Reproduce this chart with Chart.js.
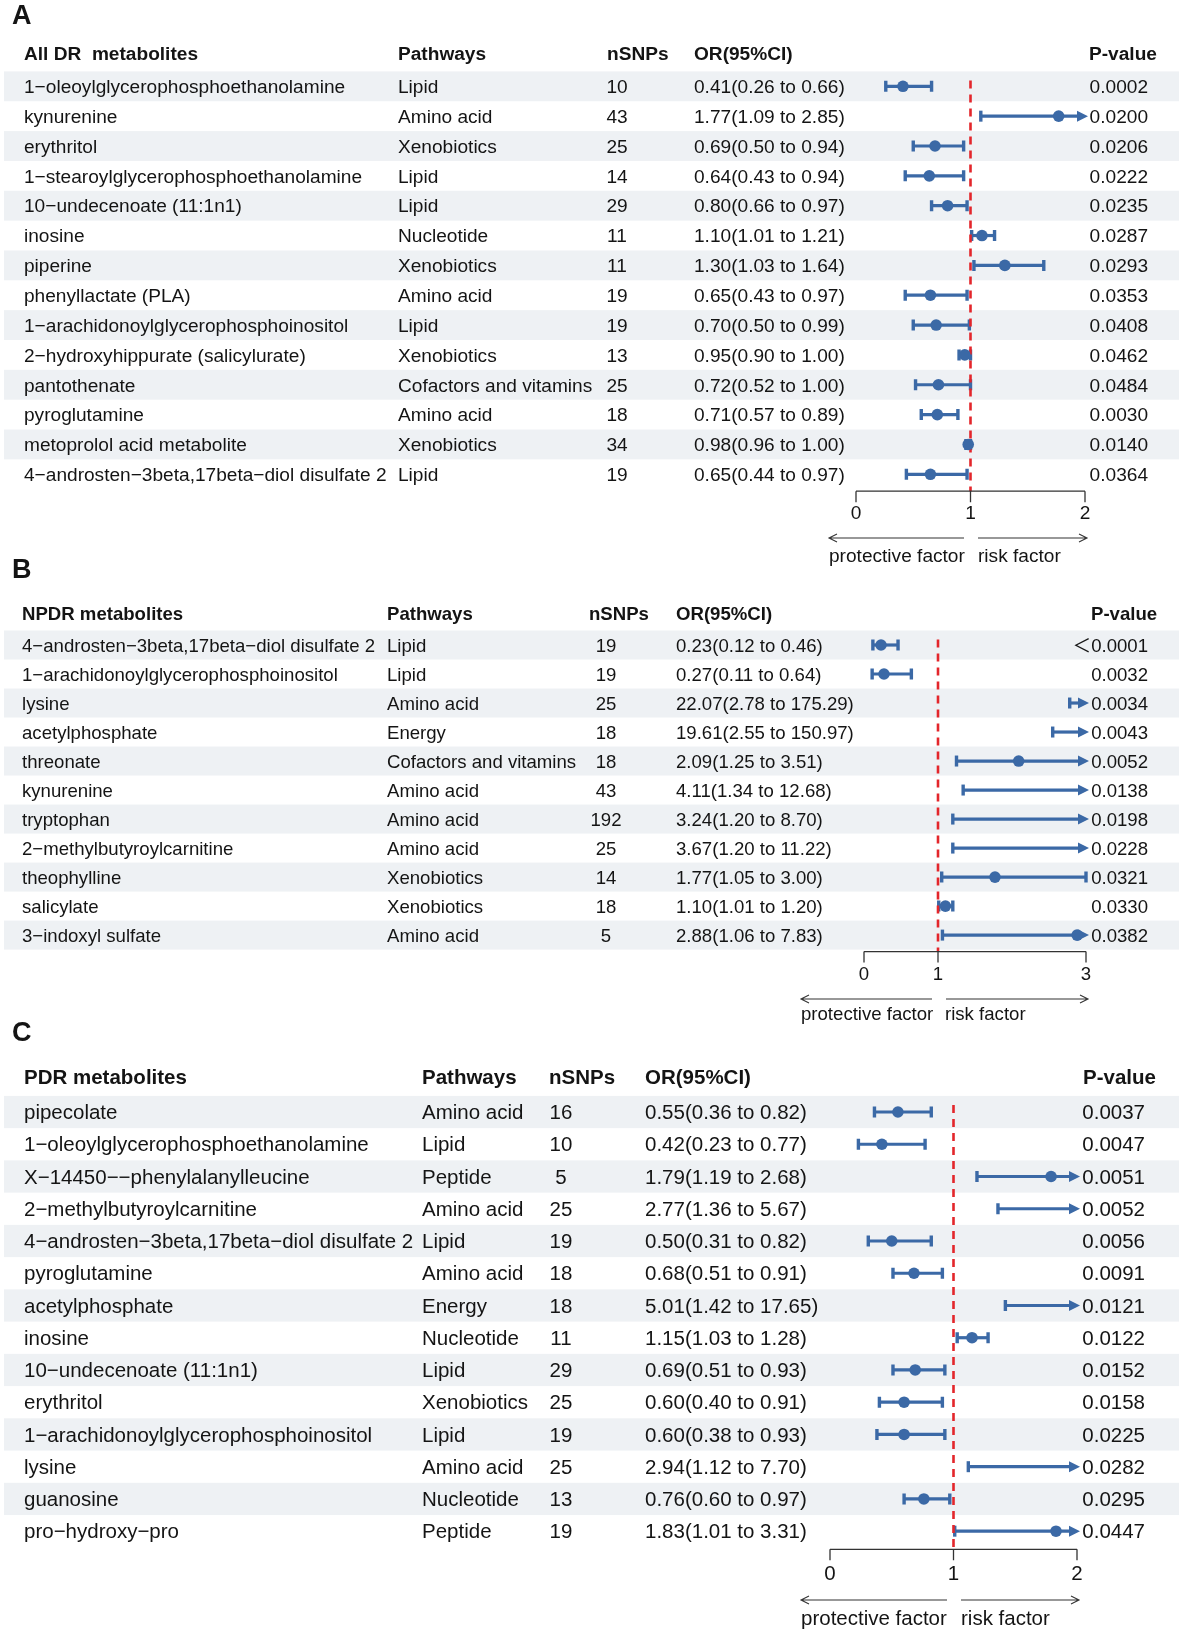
<!DOCTYPE html>
<html lang="en">
<head>
<meta charset="utf-8" />
<title>MR forest plots: DR, NPDR and PDR metabolites</title>
<style>
  * { margin: 0; padding: 0; }
  body { width: 1181px; height: 1630px; background: #fff; position: relative; overflow: hidden; }
  canvas { position: absolute; left: 0; top: 0; }
</style>
</head>
<body>
<canvas id="chartA" width="1181" height="1630"></canvas>
<canvas id="chartB" width="1181" height="1630"></canvas>
<canvas id="chartC" width="1181" height="1630"></canvas>
<script src="https://cdn.jsdelivr.net/npm/chart.js/dist/chart.umd.min.js"></script>
<script>
// ---- data: panel A (all DR)
const titleA = "All DR  metabolites";
const namesA = ["1−oleoylglycerophosphoethanolamine", "kynurenine", "erythritol",
  "1−stearoylglycerophosphoethanolamine", "10−undecenoate (11:1n1)", "inosine", "piperine",
  "phenyllactate (PLA)", "1−arachidonoylglycerophosphoinositol", "2−hydroxyhippurate (salicylurate)",
  "pantothenate", "pyroglutamine", "metoprolol acid metabolite", "4−androsten−3beta,17beta−diol disulfate 2"];
const pathwaysA = ["Lipid", "Amino acid", "Xenobiotics", "Lipid", "Lipid", "Nucleotide", "Xenobiotics",
  "Amino acid", "Lipid", "Xenobiotics", "Cofactors and vitamins", "Amino acid", "Xenobiotics", "Lipid"];
const snpsA = [10, 43, 25, 14, 29, 11, 11, 19, 19, 13, 25, 18, 34, 19];
const orA = [0.41, 1.77, 0.69, 0.64, 0.80, 1.10, 1.30, 0.65, 0.70, 0.95, 0.72, 0.71, 0.98, 0.65];
const loA = [0.26, 1.09, 0.50, 0.43, 0.66, 1.01, 1.03, 0.43, 0.50, 0.90, 0.52, 0.57, 0.96, 0.44];
const hiA = [0.66, 2.85, 0.94, 0.94, 0.97, 1.21, 1.64, 0.97, 0.99, 1.00, 1.00, 0.89, 1.00, 0.97];
const pA = ["0.0002", "0.0200", "0.0206", "0.0222", "0.0235", "0.0287", "0.0293", "0.0353",
  "0.0408", "0.0462", "0.0484", "0.0030", "0.0140", "0.0364"];
const ticksA = [0, 1, 2];

// ---- data: panel B (NPDR)
const titleB = "NPDR metabolites";
const namesB = ["4−androsten−3beta,17beta−diol disulfate 2", "1−arachidonoylglycerophosphoinositol",
  "lysine", "acetylphosphate", "threonate", "kynurenine", "tryptophan", "2−methylbutyroylcarnitine",
  "theophylline", "salicylate", "3−indoxyl sulfate"];
const pathwaysB = ["Lipid", "Lipid", "Amino acid", "Energy", "Cofactors and vitamins", "Amino acid",
  "Amino acid", "Amino acid", "Xenobiotics", "Xenobiotics", "Amino acid"];
const snpsB = [19, 19, 25, 18, 18, 43, 192, 25, 14, 18, 5];
const orB = [0.23, 0.27, 22.07, 19.61, 2.09, 4.11, 3.24, 3.67, 1.77, 1.10, 2.88];
const loB = [0.12, 0.11, 2.78, 2.55, 1.25, 1.34, 1.20, 1.20, 1.05, 1.01, 1.06];
const hiB = [0.46, 0.64, 175.29, 150.97, 3.51, 12.68, 8.70, 11.22, 3.00, 1.20, 7.83];
const pB = ["＜0.0001", "0.0032", "0.0034", "0.0043", "0.0052", "0.0138", "0.0198", "0.0228",
  "0.0321", "0.0330", "0.0382"];
const ticksB = [0, 1, 3];

// ---- data: panel C (PDR)
const titleC = "PDR metabolites";
const namesC = ["pipecolate", "1−oleoylglycerophosphoethanolamine", "X−14450−−phenylalanylleucine",
  "2−methylbutyroylcarnitine", "4−androsten−3beta,17beta−diol disulfate 2", "pyroglutamine",
  "acetylphosphate", "inosine", "10−undecenoate (11:1n1)", "erythritol",
  "1−arachidonoylglycerophosphoinositol", "lysine", "guanosine", "pro−hydroxy−pro"];
const pathwaysC = ["Amino acid", "Lipid", "Peptide", "Amino acid", "Lipid", "Amino acid", "Energy",
  "Nucleotide", "Lipid", "Xenobiotics", "Lipid", "Amino acid", "Nucleotide", "Peptide"];
const snpsC = [16, 10, 5, 25, 19, 18, 18, 11, 29, 25, 19, 25, 13, 19];
const orC = [0.55, 0.42, 1.79, 2.77, 0.50, 0.68, 5.01, 1.15, 0.69, 0.60, 0.60, 2.94, 0.76, 1.83];
const loC = [0.36, 0.23, 1.19, 1.36, 0.31, 0.51, 1.42, 1.03, 0.51, 0.40, 0.38, 1.12, 0.60, 1.01];
const hiC = [0.82, 0.77, 2.68, 5.67, 0.82, 0.91, 17.65, 1.28, 0.93, 0.91, 0.93, 7.70, 0.97, 3.31];
const pC = ["0.0037", "0.0047", "0.0051", "0.0052", "0.0056", "0.0091", "0.0121", "0.0122",
  "0.0152", "0.0158", "0.0225", "0.0282", "0.0295", "0.0447"];
const ticksC = [0, 1, 2];

const columnHeads = ["Pathways", "nSNPs", "OR(95%CI)", "P-value"];

// ---- look
const BLUE = "#3b69a6";
const RED = "#e3262b";
const SHADE = "#eef1f4";
const INK = "#141414";
const AXIS = "#333333";
const FONT = '"Liberation Sans", Arial, "Noto Sans CJK SC", sans-serif';

// layout of each panel, in page pixels
const layoutA = { letter: "A", letterY: 17, font: 19.1, headerY: 55, rowTop: 71.4, rowBottom: 489.2,
  nameX: 24, pathX: 398, snpX: 617, snpHeadX: 607, orX: 694, pX: 1148, pHeadX: 1089,
  x0: 856, x1: 1085, tickY: 514, arrowY: 538, left: [829, 964], right: [978, 1087],
  factorY: 557, protX: 829, riskX: 978 };
const layoutB = { letter: "B", letterY: 571, font: 18.6, headerY: 614.5, rowTop: 630.5, rowBottom: 949.6,
  nameX: 22, pathX: 387, snpX: 606, snpHeadX: 589, orX: 676, pX: 1148, pHeadX: 1091,
  x0: 864, x1: 1086, tickY: 975, arrowY: 999, left: [801, 932], right: [946, 1088],
  factorY: 1015, protX: 801, riskX: 945 };
const layoutC = { letter: "C", letterY: 1034, font: 20.5, headerY: 1078.5, rowTop: 1095.9, rowBottom: 1547.3,
  nameX: 24, pathX: 422, snpX: 561, snpHeadX: 549, orX: 645, pX: 1145, pHeadX: 1083,
  x0: 830, x1: 1077, tickY: 1574, arrowY: 1600, left: [801, 947], right: [961, 1079],
  factorY: 1619, protX: 801, riskX: 961 };

function ciLabels(or, lo, hi) {
  return or.map((v, i) => v.toFixed(2) + "(" + lo[i].toFixed(2) + " to " + hi[i].toFixed(2) + ")");
}

function forestPlugin(d, L) {
  return {
    id: "forest" + L.letter,
    beforeDatasetsDraw(chart) {
      const ctx = chart.ctx;
      const xs = chart.scales.x, ys = chart.scales.y;
      const area = chart.chartArea;
      const n = d.names.length;
      const step = Math.abs(ys.getPixelForValue(1) - ys.getPixelForValue(0));
      const ci = ciLabels(d.or, d.lo, d.hi);
      ctx.save();

      // zebra rows
      ctx.fillStyle = SHADE;
      for (let i = 0; i < n; i += 2) {
        const y = ys.getPixelForValue(i);
        ctx.fillRect(4, y - step / 2, 1175, step);
      }

      // panel letter + header
      ctx.fillStyle = INK;
      ctx.textBaseline = "middle";
      ctx.textAlign = "left";
      ctx.font = "bold 27px " + FONT;
      ctx.fillText(L.letter, 12, L.letterY);
      ctx.font = "bold " + L.font + "px " + FONT;
      ctx.fillText(d.title, L.nameX, L.headerY);
      ctx.fillText(columnHeads[0], L.pathX, L.headerY);
      ctx.fillText(columnHeads[1], L.snpHeadX, L.headerY);
      ctx.fillText(columnHeads[2], L.orX, L.headerY);
      ctx.fillText(columnHeads[3], L.pHeadX, L.headerY);

      // table body
      ctx.font = L.font + "px " + FONT;
      for (let i = 0; i < n; i++) {
        const y = ys.getPixelForValue(i) + 1.5;
        ctx.textAlign = "left";
        ctx.fillText(d.names[i], L.nameX, y);
        ctx.fillText(d.pathways[i], L.pathX, y);
        ctx.fillText(ci[i], L.orX, y);
        ctx.textAlign = "center";
        ctx.fillText(String(d.snps[i]), L.snpX, y);
        ctx.textAlign = "right";
        ctx.fillText(d.p[i], L.pX, y);
      }

      // confidence intervals
      const xmax = xs.max;
      ctx.strokeStyle = BLUE;
      ctx.fillStyle = BLUE;
      for (let i = 0; i < n; i++) {
        const y = ys.getPixelForValue(i);
        const a = xs.getPixelForValue(d.lo[i]);
        const over = d.hi[i] > xmax;
        const b = over ? xs.getPixelForValue(xmax) + 3 : xs.getPixelForValue(d.hi[i]);
        ctx.lineWidth = 3.2;
        ctx.beginPath();
        ctx.moveTo(a, y);
        ctx.lineTo(over ? b - 9 : b, y);
        ctx.stroke();
        ctx.lineWidth = 3.4;
        ctx.beginPath();
        ctx.moveTo(a, y - 5.5);
        ctx.lineTo(a, y + 5.5);
        if (!over) {
          ctx.moveTo(b, y - 5.5);
          ctx.lineTo(b, y + 5.5);
        }
        ctx.stroke();
        if (over) {
          ctx.beginPath();
          ctx.moveTo(b, y);
          ctx.lineTo(b - 11, y - 5.5);
          ctx.lineTo(b - 11, y + 5.5);
          ctx.closePath();
          ctx.fill();
        }
      }

      // null line at OR = 1
      const axisY = area.bottom + 2;
      const one = xs.getPixelForValue(1);
      ctx.strokeStyle = RED;
      ctx.lineWidth = 2.6;
      ctx.setLineDash([8, 6]);
      ctx.beginPath();
      ctx.moveTo(one, area.top + 9);
      ctx.lineTo(one, axisY);
      ctx.stroke();
      ctx.setLineDash([]);

      // x axis with ticks hanging down
      ctx.strokeStyle = AXIS;
      ctx.lineWidth = 1.3;
      ctx.beginPath();
      ctx.moveTo(xs.getPixelForValue(xs.min), axisY);
      ctx.lineTo(xs.getPixelForValue(xs.max), axisY);
      xs.ticks.forEach(t => {
        const x = xs.getPixelForValue(t.value);
        ctx.moveTo(x, axisY);
        ctx.lineTo(x, axisY + 11);
      });
      ctx.stroke();
      ctx.fillStyle = INK;
      ctx.textAlign = "center";
      ctx.font = L.font + "px " + FONT;
      xs.ticks.forEach(t => {
        ctx.fillText(String(t.value), xs.getPixelForValue(t.value), L.tickY);
      });

      // protective / risk arrows
      ctx.strokeStyle = AXIS;
      ctx.lineWidth = 1.1;
      ctx.beginPath();
      ctx.moveTo(L.left[0], L.arrowY);
      ctx.lineTo(L.left[1], L.arrowY);
      ctx.moveTo(L.left[0] + 8, L.arrowY - 4);
      ctx.lineTo(L.left[0], L.arrowY);
      ctx.lineTo(L.left[0] + 8, L.arrowY + 4);
      ctx.moveTo(L.right[0], L.arrowY);
      ctx.lineTo(L.right[1], L.arrowY);
      ctx.moveTo(L.right[1] - 8, L.arrowY - 4);
      ctx.lineTo(L.right[1], L.arrowY);
      ctx.lineTo(L.right[1] - 8, L.arrowY + 4);
      ctx.stroke();
      ctx.textAlign = "left";
      ctx.font = L.font + "px " + FONT;
      ctx.fillText("protective factor", L.protX, L.factorY);
      ctx.fillText("risk factor", L.riskX, L.factorY);
      ctx.restore();
    }
  };
}

function makeForest(id, d, L) {
  const n = d.names.length;
  return new Chart(document.getElementById(id), {
    type: "scatter",
    data: {
      datasets: [{
        data: d.or.map((v, i) => ({ x: v, y: i })),
        pointRadius: 5.8,
        pointHoverRadius: 5.8,
        backgroundColor: BLUE,
        borderWidth: 0
      }]
    },
    options: {
      responsive: false,
      animation: false,
      events: [],
      layout: { padding: { left: L.x0, right: 1181 - L.x1, top: L.rowTop, bottom: 1630 - L.rowBottom } },
      plugins: { legend: { display: false }, tooltip: { enabled: false } },
      scales: {
        x: {
          type: "linear", display: false, min: d.ticks[0], max: d.ticks[d.ticks.length - 1],
          afterBuildTicks: s => { s.ticks = d.ticks.map(v => ({ value: v })); }
        },
        y: { type: "linear", display: false, reverse: true, min: -0.5, max: n - 0.5 }
      }
    },
    plugins: [forestPlugin(d, L)]
  });
}

makeForest("chartA", { title: titleA, names: namesA, pathways: pathwaysA, snps: snpsA,
  or: orA, lo: loA, hi: hiA, p: pA, ticks: ticksA }, layoutA);
makeForest("chartB", { title: titleB, names: namesB, pathways: pathwaysB, snps: snpsB,
  or: orB, lo: loB, hi: hiB, p: pB, ticks: ticksB }, layoutB);
makeForest("chartC", { title: titleC, names: namesC, pathways: pathwaysC, snps: snpsC,
  or: orC, lo: loC, hi: hiC, p: pC, ticks: ticksC }, layoutC);
</script>
</body>
</html>
